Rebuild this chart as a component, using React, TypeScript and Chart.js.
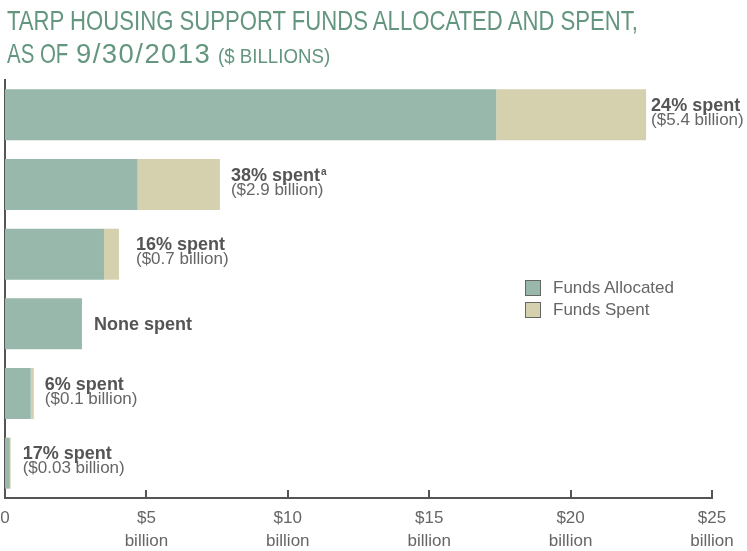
import React, { useEffect, useRef } from "react";
import { Chart, registerables } from "chart.js";

Chart.register(...registerables);

// ---- data ----
const CATEGORIES = ["Program 1", "Program 2", "Program 3", "Program 4", "Program 5", "Program 6"];
const FUNDS_ALLOCATED = [17.37, 4.69, 3.5, 2.72, 0.91, 0.17];
const FUNDS_SPENT = [5.3, 2.91, 0.53, 0, 0.11, 0.03];
const PERCENT_LABELS = ["24% spent", "38% spent", "16% spent", "None spent", "6% spent", "17% spent"];
const AMOUNT_LABELS = ["($5.4 billion)", "($2.9 billion)", "($0.7 billion)", "", "($0.1 billion)", "($0.03 billion)"];
const FOOTNOTES = ["", "a", "", "", "", ""];
const X_MIN = 0;
const X_MAX = 25;
const X_STEP = 5;
const TICK_PREFIX = "$";
const TICK_UNIT = "billion";
const SERIES_NAMES = ["Funds Allocated", "Funds Spent"];
const TITLE_LINE_1 = "TARP HOUSING SUPPORT FUNDS ALLOCATED AND SPENT,";
const TITLE_LINE_2A = "AS OF";
const TITLE_LINE_2B = "9/30/2013";
const TITLE_UNIT = "($ BILLIONS)";

// ---- styles ----
const FONT = "'Liberation Sans', Arial, sans-serif";
const GREEN = "#97b8ab";
const TAN = "#d5d0ae";
const AXIS = "#555555";
const TEXT_BOLD = "#555555";
const TEXT_REG = "#666666";
const TITLE_COLOR = "#64967f";
const LABEL_GAP = [5, 11, 17, 12, 11, 12];

const barLabelPlugin = {
  id: "barLabels",
  afterDatasetsDraw(chart: any) {
    const ctx = chart.ctx;
    const m0 = chart.getDatasetMeta(0);
    const m1 = chart.getDatasetMeta(1);
    ctx.save();
    CATEGORIES.forEach((_, i) => {
      const e0 = m0.data[i];
      const e1 = m1.data[i];
      if (!e0) return;
      const xEnd = Math.max(e0.x, e1 ? e1.x : e0.x);
      const yc = e0.y;
      const x = xEnd + LABEL_GAP[i];
      ctx.textAlign = "left";
      ctx.textBaseline = "alphabetic";
      ctx.fillStyle = TEXT_BOLD;
      ctx.font = `bold 18px ${FONT}`;
      const hasAmount = AMOUNT_LABELS[i] !== "";
      const y1 = hasAmount ? yc - 4 : yc + 6;
      ctx.fillText(PERCENT_LABELS[i], x, y1);
      if (FOOTNOTES[i]) {
        const w = ctx.measureText(PERCENT_LABELS[i]).width;
        ctx.font = `bold 10px ${FONT}`;
        ctx.fillText(FOOTNOTES[i], x + w + 1, y1 - 6);
      }
      if (hasAmount) {
        ctx.font = `17px ${FONT}`;
        ctx.fillStyle = TEXT_REG;
        ctx.fillText(AMOUNT_LABELS[i], x, yc + 10);
      }
    });
    ctx.restore();
  },
};

const tickMarkPlugin = {
  id: "innerTicks",
  afterDraw(chart: any) {
    const ctx = chart.ctx;
    const xs = chart.scales.x;
    const bottom = chart.chartArea.bottom;
    ctx.save();
    ctx.strokeStyle = AXIS;
    ctx.lineWidth = 2;
    xs.ticks.forEach((t: any) => {
      if (t.value === X_MIN) return;
      const px = Math.round(xs.getPixelForValue(t.value));
      ctx.beginPath();
      ctx.moveTo(px, bottom);
      ctx.lineTo(px, bottom - 8);
      ctx.stroke();
    });
    ctx.restore();
  },
};

function ChartCanvas() {
  const ref = useRef<HTMLCanvasElement | null>(null);
  useEffect(() => {
    if (!ref.current) return;
    const chart = new Chart(ref.current, {
      type: "bar",
      data: {
        labels: CATEGORIES,
        datasets: [
          {
            label: SERIES_NAMES[0],
            data: FUNDS_ALLOCATED,
            backgroundColor: GREEN,
            borderWidth: 0,
            barPercentage: 0.732,
            categoryPercentage: 1,
          },
          {
            label: SERIES_NAMES[1],
            data: FUNDS_SPENT,
            backgroundColor: TAN,
            borderWidth: 0,
            barPercentage: 0.732,
            categoryPercentage: 1,
          },
        ],
      },
      options: {
        indexAxis: "y",
        responsive: true,
        maintainAspectRatio: false,
        animation: false,
        layout: { padding: { top: 80, right: 35, left: 0, bottom: 0 } },
        plugins: {
          legend: { display: false },
          tooltip: { enabled: false },
          title: { display: false },
        },
        scales: {
          x: {
            type: "linear",
            stacked: true,
            min: X_MIN,
            max: X_MAX,
            ticks: {
              stepSize: X_STEP,
              padding: 8,
              color: TEXT_REG,
              font: { family: FONT, size: 17, lineHeight: 1.4 },
              maxRotation: 0,
              autoSkip: false,
              callback: (v: any) => (Number(v) === 0 ? "0" : [TICK_PREFIX + v, TICK_UNIT]),
            },
            grid: { display: false, drawTicks: false },
            border: { display: true, color: AXIS, width: 2 },
            afterFit: (s: any) => {
              s.height = 53;
              s.paddingLeft = 0;
              s.paddingRight = 0;
            },
          },
          y: {
            stacked: true,
            ticks: { display: false },
            grid: { display: false, drawTicks: false },
            border: { display: true, color: AXIS, width: 2 },
            z: 1,
            afterFit: (s: any) => {
              s.width = 5;
            },
          },
        },
      } as any,
      plugins: [barLabelPlugin, tickMarkPlugin],
    });
    return () => chart.destroy();
  }, []);
  return <canvas ref={ref} />;
}

export default function App() {
  const sq = (bg: string): React.CSSProperties => ({
    position: "absolute",
    width: 14,
    height: 14,
    background: bg,
    border: "1.5px solid #666",
  });
  const titlePiece = (left: number, top: number, size: number, scale: number, spacing = 0): React.CSSProperties => ({
    position: "absolute",
    left,
    top,
    fontFamily: FONT,
    fontSize: size,
    lineHeight: "33px",
    color: TITLE_COLOR,
    whiteSpace: "nowrap",
    letterSpacing: spacing,
    transform: `scaleX(${scale})`,
    transformOrigin: "0 0",
  });
  return (
    <div style={{ position: "absolute", left: 0, top: 0, width: 747, height: 551, background: "#fff", overflow: "hidden" }}>
      <div style={{ position: "absolute", left: 0, top: 0, width: 747, height: 551 }}>
        <ChartCanvas />
      </div>
      <div style={titlePiece(7, 4, 28, 0.79)}>{TITLE_LINE_1}</div>
      <div style={titlePiece(7, 37, 28, 0.73)}>{TITLE_LINE_2A}</div>
      <div style={titlePiece(76, 37, 28, 0.98, 1.5)}>{TITLE_LINE_2B}</div>
      <div style={titlePiece(218, 39.4, 21, 0.89)}>{TITLE_UNIT}</div>
      <div style={{ position: "absolute", left: 525, top: 280, fontFamily: FONT, fontSize: 17, color: TEXT_REG }}>
        <div style={{ ...sq(GREEN), left: 0, top: 0 }} />
        <div style={{ ...sq(TAN), left: 0, top: 22 }} />
        <div style={{ position: "absolute", left: 28, top: -3, whiteSpace: "nowrap", lineHeight: "22px" }}>
          {SERIES_NAMES[0]}
        </div>
        <div style={{ position: "absolute", left: 28, top: 19, whiteSpace: "nowrap", lineHeight: "22px" }}>
          {SERIES_NAMES[1]}
        </div>
      </div>
    </div>
  );
}
